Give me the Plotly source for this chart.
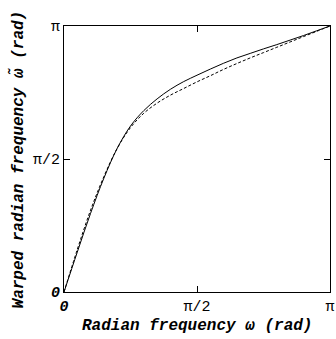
import numpy as np
import plotly.graph_objects as go

# frequencies, in units of pi
omega_frac = [0, 0.05, 0.10, 0.15, 0.20, 0.25, 0.30, 0.35, 0.40, 0.45, 0.50,
              0.55, 0.60, 0.65, 0.70, 0.75, 0.80, 0.85, 0.90, 0.95, 1.0]
# warped frequency (solid, exact warping), units of pi
warp_solid = [0, 0.150, 0.296, 0.428, 0.540, 0.624, 0.682, 0.726, 0.762, 0.791, 0.815,
              0.838, 0.860, 0.880, 0.897, 0.914, 0.930, 0.947, 0.964, 0.982, 1.0]
# warped frequency (dashed, approximation), units of pi
warp_dashed = [0, 0.160, 0.308, 0.434, 0.540, 0.618, 0.672, 0.710, 0.740, 0.765, 0.790,
               0.813, 0.837, 0.859, 0.880, 0.900, 0.920, 0.940, 0.960, 0.980, 1.0]

tick_vals = [0, np.pi / 2, np.pi]
tick_text = ["<b><i>0</i></b>", "π/2", "π"]

x = np.array(omega_frac) * np.pi
ys = np.array(warp_solid) * np.pi
yd = np.array(warp_dashed) * np.pi

fig = go.Figure()
fig.add_trace(go.Scatter(x=x, y=ys, mode="lines",
                         line=dict(color="black", width=1, shape="spline", smoothing=1.0),
                         showlegend=False, hoverinfo="skip"))
fig.add_trace(go.Scatter(x=x, y=yd, mode="lines",
                         line=dict(color="black", width=1, dash="3px,2px", shape="spline", smoothing=1.0),
                         showlegend=False, hoverinfo="skip"))

font = dict(family="Liberation Mono", size=15, color="black")
axis_common = dict(range=[0, np.pi], tickvals=tick_vals, ticktext=tick_text,
                   ticks="inside", ticklen=6, tickcolor="black", tickwidth=1,
                   showline=True, linecolor="black", linewidth=1, mirror="allticks",
                   showgrid=False, zeroline=False, tickfont=font, automargin=False)

title_font = dict(family="Liberation Mono", size=16, color="black", weight="bold", style="italic")

fig.update_layout(
    width=336, height=339,
    margin=dict(l=64, r=6, t=26, b=47),
    plot_bgcolor="white", paper_bgcolor="white",
    xaxis=dict(**axis_common),
    yaxis=dict(**axis_common),
    annotations=[
        dict(text="Radian frequency ω (rad)", xref="paper", yref="paper",
             x=0.5, y=-0.128, xanchor="center", yanchor="middle", showarrow=False,
             font=title_font),
        dict(text="Warped radian frequency ω̃ (rad)", xref="paper", yref="paper",
             x=-0.175, y=0.5, xanchor="center", yanchor="middle", showarrow=False, textangle=-90,
             font=title_font),
    ],
)

fig.write_html("out.html", config={"displayModeBar": False},
               post_script="document.body.style.margin='0';document.body.style.padding='0';")
